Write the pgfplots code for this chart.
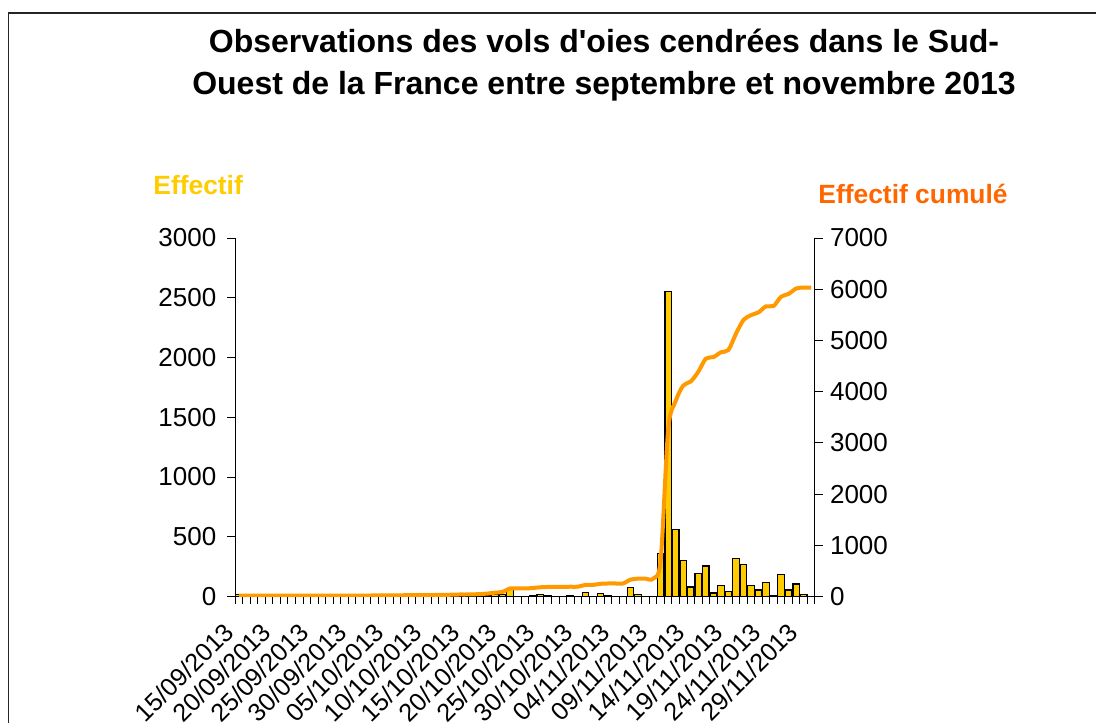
\documentclass[border=0pt]{standalone}
\usepackage{fontspec}
\setmainfont{Liberation Sans}
\newfontfamily\arial{Liberation Sans}
\usepackage{pgfplots}
\usepackage{pgfplotstable}
\pgfplotsset{compat=1.18}
\definecolor{barY}{HTML}{FFCC00}
\definecolor{lineO}{HTML}{FF9900}
\definecolor{txtO}{HTML}{FF6600}

\pgfplotstableread{
k eff cum
0 15 15
1 0 15
2 0 15
3 0 15
4 0 15
5 0 15
6 0 15
7 0 15
8 0 15
9 0 15
10 0 15
11 0 15
12 3 18
13 0 18
14 0 18
15 0 18
16 0 18
17 0 18
18 3 21
19 0 21
20 0 21
21 0 21
22 4 25
23 0 25
24 0 25
25 4 29
26 0 29
27 5 34
28 0 34
29 5 39
30 0 39
31 3 42
32 5 47
33 10 57
34 18 75
35 15 90
36 67 157
37 0 157
38 0 157
39 8 165
40 15 180
41 6 186
42 0 186
43 0 186
44 5 191
45 0 191
46 35 226
47 0 226
48 22 248
49 6 254
50 0 254
51 0 254
52 75 329
53 20 349
54 0 349
55 0 349
56 360 709
57 2550 3259
58 560 3819
59 300 4119
60 80 4199
61 190 4389
62 255 4644
63 30 4674
64 95 4769
65 45 4814
66 315 5129
67 270 5399
68 95 5494
69 55 5549
70 118 5667
71 5 5672
72 182 5854
73 55 5909
74 105 6014
75 18 6032
76 0 6032
}\data

\begin{document}
\begin{tikzpicture}[x=0.5pt,y=0.5pt]
\useasboundingbox (0,0) rectangle (1096,722);
\draw[line width=0.7pt, black!85] (8.5,-30) -- (8.5,709) -- (1130,709);

\node[anchor=base, font=\arial\bfseries\fontsize{16}{18}\selectfont, inner sep=0pt] at (604,669.5) {Observations des vols d'oies cendrées dans le Sud-};
\node[anchor=base, font=\arial\bfseries\fontsize{16}{18}\selectfont, inner sep=0pt] at (604,627.5) {Ouest de la France entre septembre et novembre 2013};

\node[anchor=base west, font=\bfseries\fontsize{13.2}{15}\selectfont, text=barY, inner sep=0pt] at (153,527) {Effectif};
\node[anchor=base west, font=\bfseries\fontsize{13.2}{15}\selectfont, text=txtO, inner sep=0pt] at (818,518) {Effectif cumulé};

\begin{axis}[
  at={(119.53pt,62.75pt)}, anchor=origin,
  scale only axis, width=289.85pt, height=179.25pt,
  xmin=-0.5, xmax=76.5, ymin=0, ymax=3000,
  axis x line*=bottom, axis y line*=left,
  axis line style={-, line width=0.5pt, black},
  ytick={0,500,...,3000},
  scaled y ticks=false,
  xtick={0,5,...,75},
  xticklabels={15/09/2013,20/09/2013,25/09/2013,30/09/2013,05/10/2013,10/10/2013,15/10/2013,20/10/2013,25/10/2013,30/10/2013,04/11/2013,09/11/2013,14/11/2013,19/11/2013,24/11/2013,29/11/2013},
  major x tick style={draw=none},
  minor xtick={-0.5,0.5,...,76.5},
  tick align=outside,
  major tick length=4pt, minor tick length=3.5pt,
  tick style={black, line width=0.5pt},
  /pgf/number format/.cd, 1000 sep={}, assume math mode=true,
  /pgfplots/.cd,
  yticklabel style={font=\fontsize{13}{15}\selectfont, xshift=-2pt},
  xticklabel style={xshift=-5pt, yshift=-11.5pt, rotate=45, anchor=east, inner sep=0pt, font=\fontsize{12.6}{15}\selectfont},
]
\addplot[ybar, bar width=3.25pt, fill=barY, draw=black, line width=0.6pt] table[x=k,y=eff]{\data};
\end{axis}

\begin{axis}[
  at={(119.53pt,62.75pt)}, anchor=origin,
  scale only axis, width=289.85pt, height=179.25pt,
  xmin=-0.5, xmax=76.5, ymin=0, ymax=7000,
  axis x line=none, axis y line*=right,
  axis line style={-, line width=0.5pt, black},
  ytick={0,1000,...,7000},
  scaled y ticks=false,
  tick align=outside, major tick length=4pt,
  tick style={black, line width=0.5pt},
  /pgf/number format/.cd, 1000 sep={}, assume math mode=true,
  /pgfplots/.cd,
  yticklabel style={font=\fontsize{13}{15}\selectfont, xshift=0pt},
]
\addplot[lineO, line width=2pt, smooth, no markers] table[x=k,y=cum]{\data};
\end{axis}
\end{tikzpicture}
\end{document}
